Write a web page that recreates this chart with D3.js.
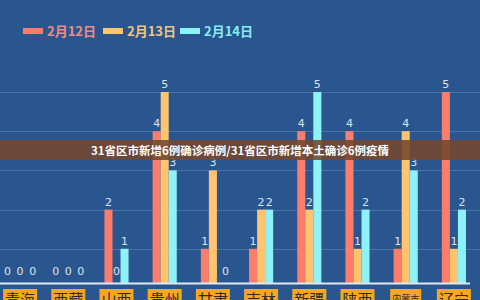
<!DOCTYPE html>
<meta charset="utf-8">
<head>
<style>
  body { margin: 0; background: #2a5690; }
  svg { display: block; }
</style>
</head>
<script src="https://d3js.org/d3.v7.min.js"></script>
<div id="my_dataviz"></div>
<script>

// provinces along the x axis
var provinces = ["青海", "西藏", "山西", "贵州", "甘肃", "吉林", "新疆", "陕西", "内蒙古", "辽宁"];

// one array per day
var feb12 = [0, 0, 2, 4, 1, 1, 4, 4, 1, 5];
var feb13 = [0, 0, 0, 5, 3, 2, 2, 1, 4, 1];
var feb14 = [0, 0, 1, 3, 0, 2, 5, 2, 3, 2];

var seriesNames = ["2月12日", "2月13日", "2月14日"];
var yTicks = [1, 2, 3, 4, 5];

var title = "31省区市新增6例确诊病例/31省区市新增本土确诊6例疫情";

var colors = ["#fb7d6c", "#fec46f", "#8df3f7"];
var textColors = ["#f38a7e", "#f3c47c", "#8be9f1"];

var width = 480, height = 300;
var baseY = 283;

var svg = d3.select("#my_dataviz")
  .append("svg")
    .attr("width", width)
    .attr("height", height)
    .style("font-family", "'Noto Sans CJK SC', 'Noto Sans', sans-serif");

svg.append("rect")
  .attr("width", width).attr("height", height)
  .attr("fill", "#2a5690");

// scales
var x = d3.scaleBand()
  .domain(provinces)
  .range([-4, 478]);

var xSub = d3.scaleBand()
  .domain([0, 1, 2])
  .range([x.bandwidth() * 0.25, x.bandwidth() * 0.75]);

var y = d3.scaleLinear()
  .domain([0, 5])
  .range([288, 92]);

// grid lines
svg.append("g")
  .selectAll("line")
  .data(yTicks)
  .enter()
  .append("line")
    .attr("x1", 0).attr("x2", width)
    .attr("y1", function(d) { return Math.round(y(d)) + 0.5; })
    .attr("y2", function(d) { return Math.round(y(d)) + 0.5; })
    .attr("stroke", "#4a72a6")
    .attr("stroke-width", 1);

// bars
var data = [];
provinces.forEach(function(p, i) {
  [feb12, feb13, feb14].forEach(function(s, k) {
    data.push({province: p, k: k, value: s[i]});
  });
});

var groups = svg.append("g");

groups.selectAll("rect")
  .data(data.filter(function(d) { return d.value > 0; }))
  .enter()
  .append("rect")
    .attr("x", function(d) { return x(d.province) + xSub(d.k); })
    .attr("y", function(d) { return y(d.value); })
    .attr("width", xSub.bandwidth())
    .attr("height", function(d) { return baseY - y(d.value); })
    .attr("fill", function(d) { return colors[d.k]; });

// value labels (zeros sit a bit wider apart, as in the original)
groups.selectAll("text")
  .data(data)
  .enter()
  .append("text")
    .attr("x", function(d) {
      var cx = x(d.province) + xSub(d.k) + xSub.bandwidth() / 2;
      return d.value > 0 ? cx : cx + (d.k - 1) * 4.5;
    })
    .attr("y", function(d) { return d.value > 0 ? y(d.value) - 4 : baseY - 8; })
    .attr("text-anchor", "middle")
    .attr("font-size", 11)
    .attr("font-family", "'DejaVu Sans', sans-serif")
    .attr("fill", "#dde3ea")
    .text(function(d) { return d.value; });

// base line
svg.append("line")
  .attr("x1", 0).attr("x2", 470)
  .attr("y1", baseY + 0.5).attr("y2", baseY + 0.5)
  .attr("stroke", "#dfe8f2")
  .attr("stroke-width", 2);

// province labels in boxes
var lab = svg.append("g").selectAll("g")
  .data(provinces)
  .enter()
  .append("g")
    .attr("transform", function(d) { return "translate(" + (x(d) + x.bandwidth() / 2) + ",0)"; });

lab.append("rect")
  .attr("fill", "#f5a623");

lab.append("text")
  .attr("text-anchor", "middle")
  .attr("y", function(d) { return d.length > 2 ? 302 : 305; })
  .attr("font-size", function(d) { return d.length > 2 ? 9 : 15; })
  .attr("fill", "#2b2b2b")
  .text(function(d) { return d; });

lab.each(function() {
  var g = d3.select(this);
  var bb = g.select("text").node().getBBox();
  g.select("rect")
    .attr("x", bb.x - 2)
    .attr("y", 289)
    .attr("width", bb.width + 4)
    .attr("height", 20);
});

// legend
var legend = svg.append("g");
var legendX = [23, 103, 180];
seriesNames.forEach(function(name, k) {
  legend.append("rect")
    .attr("x", legendX[k]).attr("y", 28)
    .attr("width", 20).attr("height", 6)
    .attr("fill", colors[k]);
  legend.append("text")
    .attr("x", legendX[k] + 24).attr("y", 36)
    .attr("font-size", 13)
    .attr("font-weight", "bold")
    .attr("fill", textColors[k])
    .text(name);
});

// title banner
svg.append("rect")
  .attr("x", 0).attr("y", 140)
  .attr("width", width).attr("height", 20)
  .attr("fill", "rgba(115, 72, 45, 0.88)");

svg.append("text")
  .attr("x", width / 2).attr("y", 154.5)
  .attr("text-anchor", "middle")
  .attr("font-size", 11.5)
  .attr("font-weight", "bold")
  .attr("fill", "#ffffff")
  .text(title);

</script>
